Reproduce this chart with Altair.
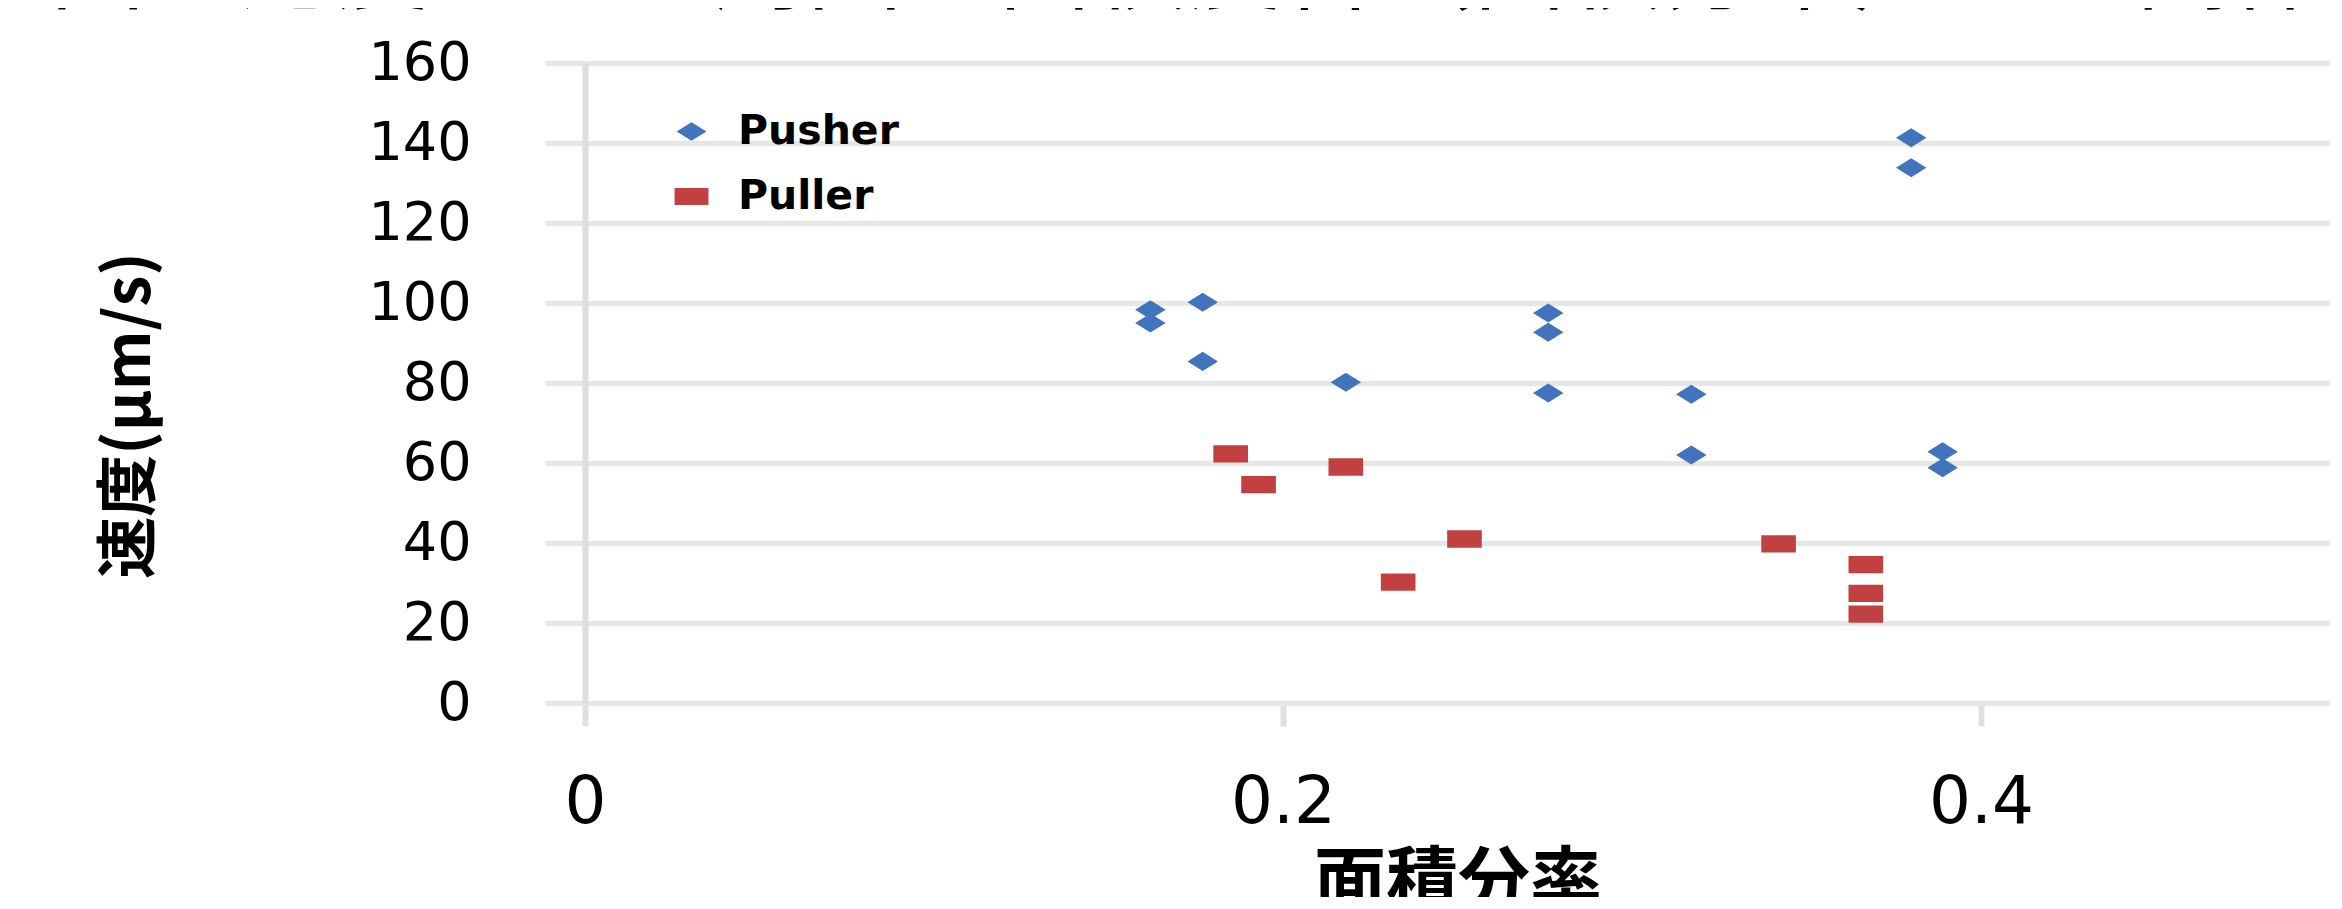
import altair as alt
import pandas as pd

# ---- data ----
series_names = ["Pusher", "Puller"]

pusher_x = [0.162, 0.162, 0.177, 0.177, 0.218, 0.276, 0.276, 0.276, 0.317, 0.317, 0.380, 0.380, 0.389, 0.389]
pusher_y = [98.3, 95.0, 100.2, 85.4, 80.2, 97.5, 92.7, 77.5, 77.2, 62.0, 141.3, 133.8, 62.8, 58.8]

puller_x = [0.185, 0.193, 0.218, 0.233, 0.252, 0.342, 0.367, 0.367, 0.367]
puller_y = [62.3, 54.6, 59.0, 30.2, 41.0, 39.8, 34.6, 27.4, 22.2]

x_ticks = [0, 0.2, 0.4]
y_ticks = [0, 20, 40, 60, 80, 100, 120, 140, 160]

title_text = ["図の速度とその周囲の面積度合（面積分率）との関係"]
x_title = "面積分率"
y_title = "速度(μm/s)"

colors = ["#4174BC", "#C0413F"]
diamond_path = "M-0.88,0L0,-0.55L0.88,0L0,0.55Z"
rect_path = "M-1,-0.5L1,-0.5L1,0.5L-1,0.5Z"

df = pd.concat([
    pd.DataFrame({"x": pusher_x, "y": pusher_y, "series": series_names[0]}),
    pd.DataFrame({"x": puller_x, "y": puller_y, "series": series_names[1]}),
])
title_df = pd.DataFrame({"t": title_text})

legend = alt.Legend(
    title=None, orient="none", legendX=86, legendY=48,
    symbolSize=1150, symbolStrokeWidth=0,
    labelFont="DejaVu Sans", labelFontWeight="bold", labelFontSize=41,
    labelColor="black", labelOffset=26, labelLimit=0, rowPadding=23, padding=0,
)

points = alt.Chart(df).mark_point(filled=True, size=1200, opacity=1).encode(
    x=alt.X("x:Q", scale=alt.Scale(domain=[0, 0.5], nice=False, zero=True),
            axis=alt.Axis(
                values=x_ticks, format="~g", grid=False, labelFlush=False,
                domain=True, domainColor="#e6e6e6", domainWidth=5,
                ticks=True, tickColor="#e0e0e0", tickWidth=6, tickSize=23,
                labelFont="DejaVu Sans", labelFontSize=66, labelColor="black",
                labelPadding=44,
                title=x_title, titleFont="Noto Sans CJK JP", titleFontSize=72,
                titleFontWeight="bold", titleColor="black", titlePadding=13,
            )),
    y=alt.Y("y:Q", scale=alt.Scale(domain=[0, 160], nice=False),
            axis=alt.Axis(
                values=y_ticks, format="d", grid=True,
                gridColor="#e6e6e6", gridWidth=5,
                domain=True, domainColor="#dedede", domainWidth=6,
                ticks=True, tickColor="#e6e6e6", tickWidth=5, tickSize=40,
                labelFont="DejaVu Sans", labelFontSize=54, labelColor="black",
                labelPadding=74,
                title=y_title, titleFont="Noto Sans CJK JP", titleFontSize=62,
                titleFontWeight="bold", titleColor="black",
                titleAngle=270, titleAlign="center", titleBaseline="middle",
                titleX=-455, titleY=352,
            )),
    color=alt.Color("series:N", scale=alt.Scale(domain=series_names, range=colors), legend=legend),
    shape=alt.Shape("series:N", scale=alt.Scale(domain=series_names, range=[diamond_path, rect_path]), legend=legend),
)

# figure caption at the top, mostly cut off by the top edge as in the reference
caption = alt.Chart(title_df).mark_text(
    align="left", baseline="alphabetic", font="Noto Sans CJK JP",
    fontSize=95, color="black",
).encode(text="t:N", x=alt.value(-535), y=alt.value(-61))

chart = alt.layer(points, caption).properties(
    width=1745, height=640,
    autosize=alt.AutoSizeParams(type="none"),
    padding={"left": 577, "top": 55, "right": 0, "bottom": 194},
    background="white",
).configure_view(strokeWidth=0)

chart.save("out.html", embed_options={"renderer": "svg", "actions": False})
